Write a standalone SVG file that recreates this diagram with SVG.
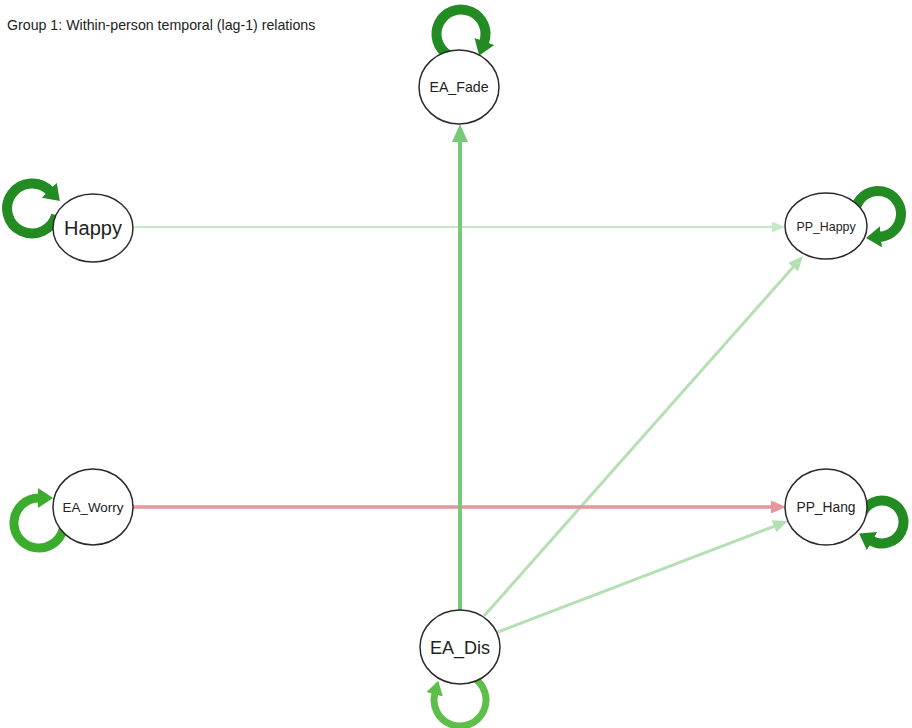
<svg xmlns="http://www.w3.org/2000/svg" width="912" height="728" viewBox="0 0 912 728">
<style>
.node ellipse{fill:#ffffff;stroke:#2a2a2a;stroke-width:1.5}
.node text{font-family:"Liberation Sans",Arial,sans-serif;fill:#222222;text-anchor:middle}
.edge{fill:none;stroke-linecap:butt}
.title{font-family:"Liberation Sans",Arial,sans-serif;font-size:14.2px;fill:#222222}
</style>
<defs>
<marker id="mFade" viewBox="0 0 18 16" markerWidth="18" markerHeight="16" refX="1" refY="8" orient="auto" markerUnits="userSpaceOnUse"><path d="M0,0 L18,8 L0,16 z" fill="#77c977"/></marker>
<marker id="mL1" viewBox="0 0 13 11" markerWidth="13" markerHeight="11" refX="1" refY="5.5" orient="auto" markerUnits="userSpaceOnUse"><path d="M0,0 L13,5.5 L0,11 z" fill="#c5e8c5"/></marker>
<marker id="mL2" viewBox="0 0 15 13" markerWidth="15" markerHeight="13" refX="1" refY="6.5" orient="auto" markerUnits="userSpaceOnUse"><path d="M0,0 L15,6.5 L0,13 z" fill="#b4e0b4"/></marker>
<marker id="mRed" viewBox="0 0 15 13" markerWidth="15" markerHeight="13" refX="1" refY="6.5" orient="auto" markerUnits="userSpaceOnUse"><path d="M0,0 L15,6.5 L0,13 z" fill="#e8959a"/></marker>
<marker id="mDark" viewBox="0 0 15 21" markerWidth="15" markerHeight="21" refX="1" refY="10.5" orient="auto" markerUnits="userSpaceOnUse"><path d="M0,0 L15,10.5 L0,21 z" fill="#228b22"/></marker>
<marker id="mMid" viewBox="0 0 15 20" markerWidth="15" markerHeight="20" refX="1" refY="10" orient="auto" markerUnits="userSpaceOnUse"><path d="M0,0 L15,10 L0,20 z" fill="#3cac2c"/></marker>
<marker id="mLite" viewBox="0 0 14 17" markerWidth="14" markerHeight="17" refX="1" refY="8.5" orient="auto" markerUnits="userSpaceOnUse"><path d="M0,0 L14,8.5 L0,17 z" fill="#5cbf48"/></marker>
</defs>
<rect width="912" height="728" fill="#ffffff"/>
<text class="title" x="7" y="30">Group 1: Within-person temporal (lag-1) relations</text>
<g id="connectors">
<path class="edge" d="M134 227 L773 227" stroke="#c5e8c5" stroke-width="2" marker-end="url(#mL1)"/>
<path class="edge" d="M484 616 L793.7 266.5" stroke="#b4e0b4" stroke-width="3" marker-end="url(#mL2)"/>
<path class="edge" d="M498 632 L774.9 526" stroke="#b4e0b4" stroke-width="3" marker-end="url(#mL2)"/>
<path class="edge" d="M133 507 L772 507" stroke="#e8959a" stroke-width="3.5" marker-end="url(#mRed)"/>
<path class="edge" d="M460 612 L460 141" stroke="#77c977" stroke-width="4" marker-end="url(#mFade)"/>
<path class="edge" d="M448.75 55.2 A24.5 24.5 0 1 1 484 42.4" stroke="#228b22" stroke-width="10" marker-end="url(#mDark)"/>
<path class="edge" d="M56.2 215.2 A25 25 0 1 1 50 191" stroke="#228b22" stroke-width="10" marker-end="url(#mDark)"/>
<path class="edge" d="M856.4 206.1 A23 23 0 1 1 880 236.9" stroke="#228b22" stroke-width="10" marker-end="url(#mDark)"/>
<path class="edge" d="M861.8 514.6 A21.5 21.5 0 1 1 871.25 540.6" stroke="#228b22" stroke-width="10" marker-end="url(#mDark)"/>
<path class="edge" d="M63.1 529.5 A25 25 0 1 1 39 498" stroke="#3cac2c" stroke-width="9" marker-end="url(#mMid)"/>
<path class="edge" d="M473 677.5 A26 26 0 1 1 434.9 693.3" stroke="#5cbf48" stroke-width="7" marker-end="url(#mLite)"/>
</g>
<g id="node-EA_Fade" class="node"><ellipse cx="459" cy="87" rx="40" ry="37"/><text x="459" y="92" font-size="14.2">EA_Fade</text></g>
<g id="node-Happy" class="node"><ellipse cx="93" cy="228" rx="40" ry="34"/><text x="93" y="235" font-size="20">Happy</text></g>
<g id="node-PP_Happy" class="node"><ellipse cx="826" cy="226" rx="41" ry="33"/><text x="826" y="230.5" font-size="12.4">PP_Happy</text></g>
<g id="node-EA_Worry" class="node"><ellipse cx="93" cy="507" rx="40" ry="38"/><text x="93" y="512" font-size="13.4">EA_Worry</text></g>
<g id="node-PP_Hang" class="node"><ellipse cx="826" cy="507" rx="41" ry="38"/><text x="826" y="512" font-size="13.8">PP_Hang</text></g>
<g id="node-EA_Dis" class="node"><ellipse cx="460" cy="647" rx="40" ry="37"/><text x="460" y="653.5" font-size="18">EA_Dis</text></g>
</svg>
